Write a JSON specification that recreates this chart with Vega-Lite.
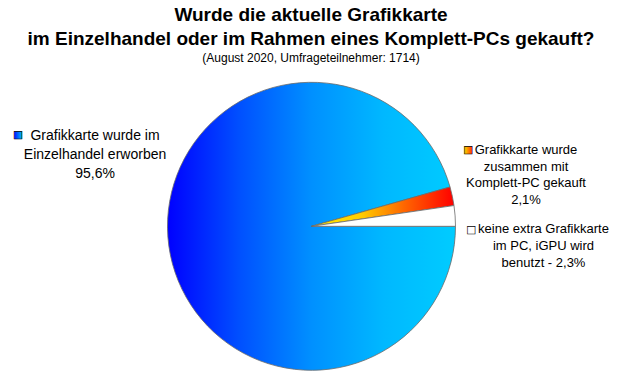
{
  "$schema": "https://vega.github.io/schema/vega-lite/v6.json",
  "width": 619,
  "height": 375,
  "autosize": "none",
  "padding": 0,
  "background": "white",
  "config": {
    "view": {"stroke": "#f0a238", "strokeWidth": 2},
    "font": "Liberation Sans"
  },
  "title": {
    "text": ["Wurde die aktuelle Grafikkarte", "im Einzelhandel oder im Rahmen eines Komplett-PCs gekauft?"],
    "subtitle": "(August 2020, Umfrageteilnehmer: 1714)",
    "anchor": "middle",
    "frame": "group",
    "offset": -64,
    "dx": 1.5,
    "font": "Liberation Sans",
    "fontSize": 19,
    "fontWeight": "bold",
    "lineHeight": 24,
    "color": "black",
    "subtitleFont": "Liberation Sans",
    "subtitleFontSize": 12,
    "subtitleColor": "black",
    "subtitlePadding": 4
  },
  "data": {
    "values": [
      {"cat": "Einzelhandel", "value": 95.6, "order": 1, "label": ["Grafikkarte wurde im", "Einzelhandel erworben", "95,6%"]},
      {"cat": "Komplett", "value": 2.1, "order": 2, "label": ["Grafikkarte wurde", "zusammen mit", "Komplett-PC gekauft", "2,1%"]},
      {"cat": "iGPU", "value": 2.3, "order": 3, "label": ["keine extra Grafikkarte", "im PC, iGPU wird", "benutzt - 2,3%"]}
    ]
  },
  "encoding": {
    "theta": {"field": "value", "type": "quantitative", "stack": true, "scale": {"domain": [0, 100], "range": [1.5707963, 7.8539816]}},
    "order": {"field": "order", "type": "quantitative"}
  },
  "layer": [
    {
      "mark": {"type": "arc", "outerRadius": 144, "stroke": "#6a6a6a", "strokeWidth": 0.8, "xOffset": 2, "yOffset": 38.8},
      "encoding": {
        "color": {
          "condition": [
            {"test": "datum.cat === 'Einzelhandel'", "value": {"gradient": "linear", "x1": 0, "y1": 0, "x2": 1, "y2": 0, "stops": [{"offset": 0, "color": "#0000ff"}, {"offset": 0.25, "color": "#0050ff"}, {"offset": 0.5, "color": "#0090ff"}, {"offset": 0.75, "color": "#00b8ff"}, {"offset": 1, "color": "#00ccff"}]}},
            {"test": "datum.cat === 'Komplett'", "value": {"gradient": "linear", "x1": 0, "y1": 0, "x2": 1, "y2": 0, "stops": [{"offset": 0, "color": "#ffee00"}, {"offset": 0.35, "color": "#ffcc00"}, {"offset": 0.65, "color": "#ff6600"}, {"offset": 1, "color": "#ff0000"}]}}
          ],
          "value": "#ffffff"
        }
      }
    },
    {
      "mark": {"type": "text", "radius": 150, "xOffset": 2, "yOffset": 38.8, "dx": -67.9, "dy": -107, "align": "center", "baseline": "alphabetic", "fontSize": 14, "lineHeight": 18.8, "font": "Liberation Sans", "fill": "black"},
      "encoding": {"text": {"condition": {"test": "datum.cat === 'Einzelhandel'", "field": "label"}, "value": ""}}
    },
    {
      "mark": {"type": "text", "radius": 150, "xOffset": 2, "yOffset": 38.8, "dx": 67.8, "dy": -41, "align": "center", "baseline": "alphabetic", "fontSize": 13, "lineHeight": 16.7, "font": "Liberation Sans", "fill": "black"},
      "encoding": {"text": {"condition": {"test": "datum.cat === 'Komplett'", "field": "label"}, "value": ""}}
    },
    {
      "mark": {"type": "text", "radius": 150, "xOffset": 2, "yOffset": 38.8, "dx": 82.4, "dy": 17.8, "align": "center", "baseline": "alphabetic", "fontSize": 13, "lineHeight": 16.7, "font": "Liberation Sans", "fill": "black"},
      "encoding": {"text": {"condition": {"test": "datum.cat === 'iGPU'", "field": "label"}, "value": ""}}
    },
    {
      "mark": {"type": "text", "radius": 150, "xOffset": 2, "yOffset": 38.8, "dx": -144.9, "dy": -112, "align": "center", "baseline": "middle", "fontSize": 10, "font": "DejaVu Sans", "stroke": "black", "strokeWidth": 0.6, "fill": {"gradient": "linear", "x1": 0, "y1": 0, "x2": 1, "y2": 0, "stops": [{"offset": 0, "color": "#0000ff"}, {"offset": 1, "color": "#00ccff"}]}},
      "encoding": {"text": {"condition": {"test": "datum.cat === 'Einzelhandel'", "value": "■"}, "value": ""}}
    },
    {
      "mark": {"type": "text", "radius": 150, "xOffset": 2, "yOffset": 38.8, "dx": 10.1, "dy": -44.7, "align": "center", "baseline": "middle", "fontSize": 10, "font": "DejaVu Sans", "stroke": "black", "strokeWidth": 0.6, "fill": {"gradient": "linear", "x1": 0, "y1": 0, "x2": 1, "y2": 0, "stops": [{"offset": 0, "color": "#ffee00"}, {"offset": 1, "color": "#ff2200"}]}},
      "encoding": {"text": {"condition": {"test": "datum.cat === 'Komplett'", "value": "■"}, "value": ""}}
    },
    {
      "mark": {"type": "text", "radius": 150, "xOffset": 2, "yOffset": 38.8, "dx": 10.2, "dy": 14.8, "align": "center", "baseline": "middle", "fontSize": 10, "font": "DejaVu Sans", "stroke": "black", "strokeWidth": 0.6, "fill": "white"},
      "encoding": {"text": {"condition": {"test": "datum.cat === 'iGPU'", "value": "■"}, "value": ""}}
    }
  ]
}
